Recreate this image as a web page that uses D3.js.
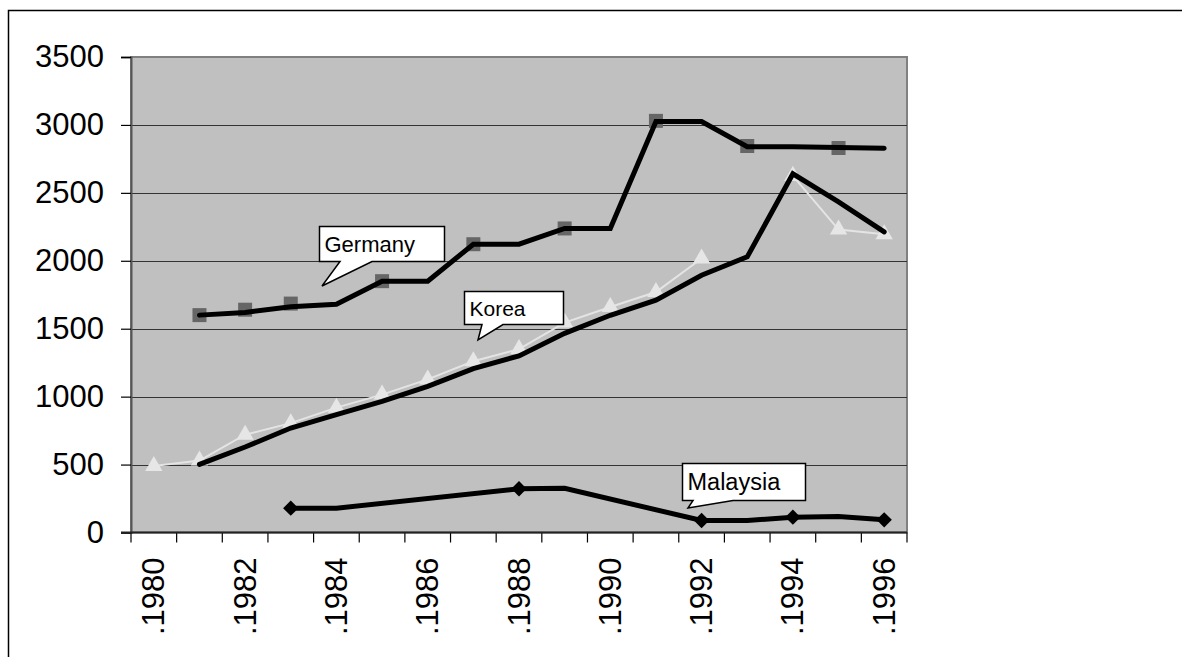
<!DOCTYPE html>
<html>
<head>
<meta charset="utf-8">
<script src="https://cdn.jsdelivr.net/npm/d3@7"></script>
<style>
  html, body { margin: 0; padding: 0; background: #fff; }
  svg { display: block; font-family: "Liberation Sans", Arial, sans-serif; }
</style>
</head>
<body>
<svg id="chart" width="1182" height="657"></svg>
<script>
// Years on the category axis
const years = d3.range(1980, 1997);
// Labelled years (every other one)
const yearLabels = [1980, 1982, 1984, 1986, 1988, 1990, 1992, 1994, 1996];
// Value axis ticks
const yTicks = [0, 500, 1000, 1500, 2000, 2500, 3000, 3500];

// Observed values (null where no observation)
const germanyObs  = [null, 1600, 1640, 1685, null, 1850, null, 2122, null, 2238, null, 3030, null, 2845, null, 2830, null];
const koreaObs    = [490, 530, 720, 805, 919, 1015, 1127, 1260, 1350, 1545, 1660, 1770, 2017, null, 2625, 2230, 2195];
const malaysiaObs = [null, null, null, 179, null, null, null, null, 322, null, null, null, 88, null, 113, null, 93];

// Smoothed series drawn as thick lines
const germanyTrend  = [null, 1600, 1620, 1662, 1680, 1850, 1850, 2122, 2122, 2238, 2238, 3025, 3025, 2840, 2840, 2833, 2828];
const koreaTrend    = [null, 501, 629, 769, 867, 965, 1076, 1206, 1300, 1466, 1599, 1710, 1894, 2029, 2640, 2434, 2213];
const malaysiaTrend = [null, null, null, 179, 179, null, null, null, 322, 326, null, null, 88, 88, 113, 118, 93];

const svg = d3.select("#chart");

// Outer chart frame (only top and left edges fall inside the window)
svg.append("rect")
  .attr("x", 8.5).attr("y", 10.5)
  .attr("width", 1300).attr("height", 800)
  .attr("fill", "none").attr("stroke", "#000").attr("stroke-width", 1.5);

const plot = { left: 131, right: 907, top: 57, bottom: 532.5 };

const x = d3.scaleBand().domain(years).range([plot.left, plot.right]).paddingInner(0).paddingOuter(0);
const y = d3.scaleLinear().domain([0, 3500]).range([plot.bottom, plot.top]);
const cx = d => x(d) + x.bandwidth() / 2;

// Plot area
svg.append("rect")
  .attr("x", plot.left).attr("y", plot.top)
  .attr("width", plot.right - plot.left).attr("height", plot.bottom - plot.top)
  .attr("fill", "#c0c0c0").attr("stroke", "#808080").attr("stroke-width", 2);

// Horizontal gridlines
svg.append("g").selectAll("line")
  .data(yTicks.filter(t => t > 0 && t < 3500))
  .join("line")
  .attr("x1", plot.left).attr("x2", plot.right)
  .attr("y1", d => Math.round(y(d)) + 0.5).attr("y2", d => Math.round(y(d)) + 0.5)
  .attr("stroke", "#333").attr("stroke-width", 1);

// Value axis
const yAxis = svg.append("g")
  .attr("transform", `translate(${plot.left},0)`)
  .call(d3.axisLeft(y).tickValues(yTicks).tickSize(10).tickPadding(17).tickFormat(d3.format("d")));
yAxis.select(".domain").attr("stroke", "#555").attr("stroke-width", 2);
yAxis.selectAll(".tick line").attr("stroke", "#000").attr("stroke-width", 1.2);
yAxis.selectAll("text")
  .attr("font-size", 31).attr("fill", "#000")
  .attr("font-family", "'Liberation Sans', Arial, sans-serif");

// Category axis: labels centred on categories, ticks on boundaries
const xAxis = svg.append("g")
  .attr("transform", `translate(0,${plot.bottom})`)
  .call(d3.axisBottom(x).tickValues(yearLabels).tickSize(0).tickFormat(d => "." + d));
xAxis.select(".domain").remove();
xAxis.selectAll("text")
  .attr("font-size", 31).attr("fill", "#000")
  .attr("font-family", "'Liberation Sans', Arial, sans-serif")
  .attr("transform", "rotate(-90)")
  .attr("text-anchor", "end")
  .attr("x", -25).attr("y", 10.5).attr("dy", 0);

const bounds = d3.range(years.length + 1).map(k => plot.left + k * x.bandwidth());
svg.append("g").selectAll("line")
  .data(bounds)
  .join("line")
  .attr("x1", d => d).attr("x2", d => d)
  .attr("y1", plot.bottom).attr("y2", plot.bottom + 10)
  .attr("stroke", "#000").attr("stroke-width", 1.2);
svg.append("line")
  .attr("x1", plot.left - 10).attr("x2", plot.right)
  .attr("y1", plot.bottom).attr("y2", plot.bottom)
  .attr("stroke", "#222").attr("stroke-width", 2);

const pts = arr => years.map((yr, i) => ({ yr, v: arr[i] }));

// Korea observations: thin light line with gaps
svg.append("path")
  .datum(pts(koreaObs))
  .attr("fill", "none").attr("stroke", "#e4e4e4").attr("stroke-width", 2)
  .attr("d", d3.line().defined(d => d.v != null).x(d => cx(d.yr)).y(d => y(d.v)));

// Markers
const sym = (type, size) => d3.symbol().type(type).size(size)();

svg.append("g").selectAll("path")
  .data(pts(germanyObs).filter(d => d.v != null))
  .join("path")
  .attr("d", sym(d3.symbolSquare, 196))
  .attr("transform", d => `translate(${cx(d.yr)},${y(d.v)})`)
  .attr("fill", "#666");

svg.append("g").selectAll("path")
  .data(pts(koreaObs).filter(d => d.v != null))
  .join("path")
  .attr("d", sym(d3.symbolTriangle, 130))
  .attr("transform", d => `translate(${cx(d.yr)},${y(d.v)})`)
  .attr("fill", "#e6e6e6");

svg.append("g").selectAll("path")
  .data(pts(malaysiaObs).filter(d => d.v != null))
  .join("path")
  .attr("d", sym(d3.symbolDiamond2, 150))
  .attr("transform", d => `translate(${cx(d.yr)},${y(d.v)})`)
  .attr("fill", "#000");

// Thick smoothed lines
const thick = d3.line().x(d => cx(d.yr)).y(d => y(d.v));
[germanyTrend, koreaTrend, malaysiaTrend].forEach(arr => {
  svg.append("path")
    .datum(pts(arr).filter(d => d.v != null))
    .attr("fill", "none").attr("stroke", "#000").attr("stroke-width", 5)
    .attr("stroke-linejoin", "miter").attr("stroke-linecap", "round")
    .attr("d", thick);
});

// Speech-bubble callouts naming each series
function callout(box, base, tip, label, fs) {
  const [x0, y0, x1, y1] = box;
  const d = `M${x0},${y0} H${x1} V${y1} H${base[1]} L${tip[0]},${tip[1]} L${base[0]},${y1} H${x0} Z`;
  svg.append("path").attr("d", d)
    .attr("fill", "#fff").attr("stroke", "#000").attr("stroke-width", 1.5)
    .attr("stroke-linejoin", "miter");
  svg.append("text")
    .attr("x", x0 + 5).attr("y", (y0 + y1) / 2 + fs * 0.36)
    .attr("font-size", fs).attr("fill", "#000")
    .attr("font-family", "'Liberation Sans', Arial, sans-serif")
    .text(label);
}
callout([319.5, 226.5, 444.5, 261.5], [340, 372], [322, 286], "Germany", 22);
callout([464.5, 291.5, 563.5, 324.5], [482, 503], [478, 340], "Korea", 21);
callout([682.5, 463.5, 805.5, 500.5], [693, 733], [688, 508], "Malaysia", 23.5);
</script>
</body>
</html>
